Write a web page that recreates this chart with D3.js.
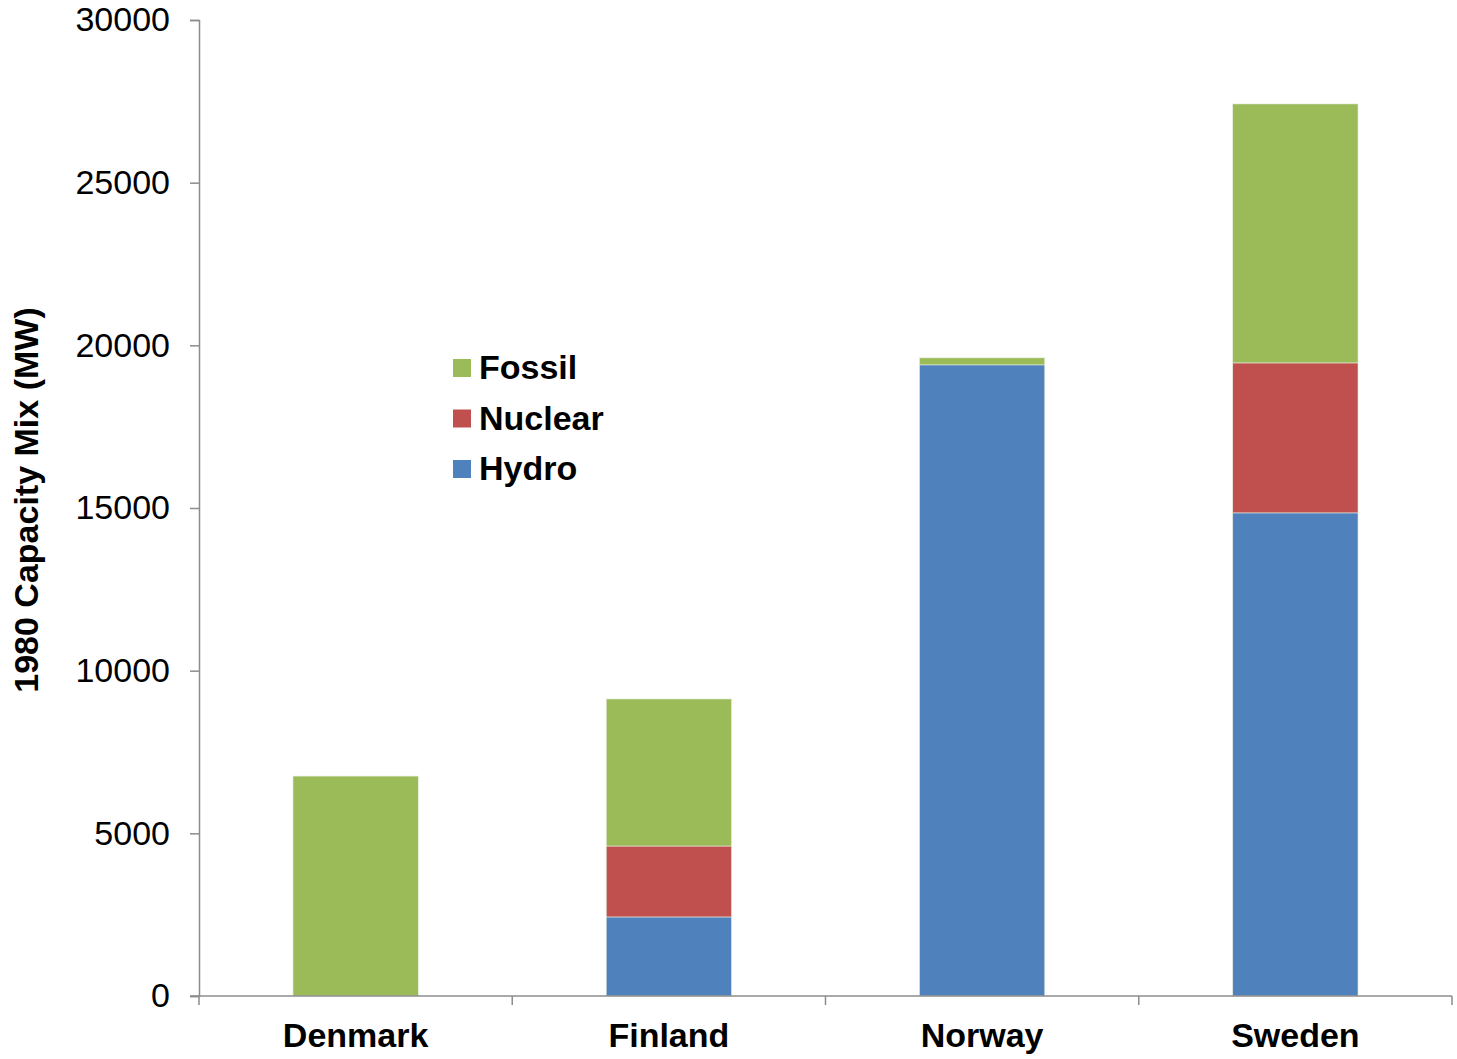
<!DOCTYPE html>
<html>
<head>
<meta charset="utf-8">
<script src="https://cdn.jsdelivr.net/npm/d3@7"></script>
<style>
  html, body { margin: 0; padding: 0; background: #fff; }
  svg { display: block; font-family: "Liberation Sans", Arial, sans-serif; }
</style>
</head>
<body>
<svg id="chart" width="1457" height="1059"></svg>
<script>
// 1980 installed capacity by source (MW)
const countries = ["Denmark", "Finland", "Norway", "Sweden"];
const hydro   = [0, 2430, 19400, 14850];
const nuclear = [0, 2180, 0, 4610];
const fossil  = [6760, 4520, 215, 7960];
const seriesNames = ["Hydro", "Nuclear", "Fossil"];
const seriesColors = ["#4F81BD", "#C0504D", "#9BBB59"];
const yTicks = [0, 5000, 10000, 15000, 20000, 25000, 30000];
const yTitle = "1980 Capacity Mix (MW)";

const svg = d3.select("#chart");
const plotLeft = 199, plotRight = 1452, plotTop = 20, plotBottom = 996;

const rows = countries.map((c, i) => ({
  country: c, Hydro: hydro[i], Nuclear: nuclear[i], Fossil: fossil[i]
}));
const stacked = d3.stack().keys(seriesNames)(rows);

const x = d3.scaleBand().domain(countries).range([plotLeft, plotRight]).paddingInner(0.6).paddingOuter(0.3);
const xOuter = d3.scaleBand().domain(countries).range([plotLeft, plotRight]);
const y = d3.scaleLinear().domain([0, 30000]).range([plotBottom, plotTop]);
const color = d3.scaleOrdinal().domain(seriesNames).range(seriesColors);

// stacked bars
svg.append("g").selectAll("g").data(stacked).join("g")
  .attr("fill", d => color(d.key))
  .selectAll("rect").data(d => d.filter(p => p[1] - p[0] > 0)).join("rect")
  .attr("x", d => x(d.data.country))
  .attr("width", x.bandwidth())
  .attr("y", d => y(d[1]))
  .attr("height", d => y(d[0]) - y(d[1]))
  .attr("stroke", "#e8eee0")
  .attr("stroke-width", 0.6);

// y axis
const yAxis = svg.append("g").attr("transform", `translate(${plotLeft},0)`)
  .call(d3.axisLeft(y).tickValues(yTicks).tickSize(9).tickPadding(20).tickFormat(d3.format("d")));
yAxis.select(".domain").attr("stroke", "#8c8c8c").attr("stroke-width", 1.5);
yAxis.selectAll(".tick line").attr("stroke", "#8c8c8c").attr("stroke-width", 1.5);
yAxis.selectAll(".tick text").attr("font-size", 34).attr("fill", "#000")
  .attr("font-family", "Liberation Sans, Arial, sans-serif");

// x axis with ticks on category boundaries
const xg = svg.append("g");
xg.append("line").attr("x1", plotLeft - 9).attr("x2", plotRight).attr("y1", plotBottom).attr("y2", plotBottom)
  .attr("stroke", "#8c8c8c").attr("stroke-width", 1.5);
const bounds = countries.map(c => xOuter(c)).concat([plotRight]);
xg.selectAll("line.tk").data(bounds).join("line").attr("class", "tk")
  .attr("x1", d => d).attr("x2", d => d).attr("y1", plotBottom).attr("y2", plotBottom + 9)
  .attr("stroke", "#8c8c8c").attr("stroke-width", 1.5);
xg.selectAll("text").data(countries).join("text")
  .attr("x", d => xOuter(d) + xOuter.bandwidth() / 2)
  .attr("y", 1047)
  .attr("text-anchor", "middle")
  .attr("font-size", 34).attr("font-weight", "bold")
  .text(d => d);

// y title
svg.append("text")
  .attr("transform", "translate(38,500) rotate(-90)")
  .attr("text-anchor", "middle")
  .attr("font-size", 34).attr("font-weight", "bold")
  .text(yTitle);

// legend (top-down: Fossil, Nuclear, Hydro)
const legendItems = seriesNames.slice().reverse();
const lg = svg.append("g").attr("transform", "translate(453,359)");
const li = lg.selectAll("g").data(legendItems).join("g")
  .attr("transform", (d, i) => `translate(0,${i * 50.5})`);
li.append("rect").attr("width", 18).attr("height", 18).attr("fill", d => color(d));
li.append("text").attr("x", 26).attr("y", 20)
  .attr("font-size", 34).attr("font-weight", "bold").text(d => d);
</script>
</body>
</html>
